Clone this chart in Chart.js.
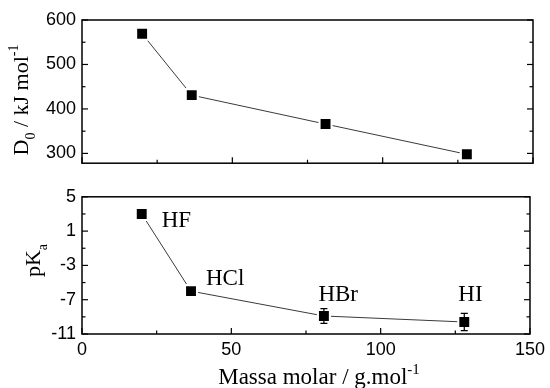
<!DOCTYPE html>
<html><head><meta charset="utf-8">
<script src="https://cdn.jsdelivr.net/npm/chart.js@4"></script>
<style>
html,body{margin:0;padding:0;background:#fff;}
#wrap{position:relative;width:550px;height:388px;overflow:hidden;}
.box{position:absolute;left:0;width:550px;}
</style></head><body>
<div id="wrap">
<div class="box" style="top:0;height:180px"><canvas id="c1"></canvas></div>
<div class="box" style="top:180px;height:208px"><canvas id="c2"></canvas></div>
</div>
<script>
// ---- data ----
const compounds = ['HF', 'HCl', 'HBr', 'HI'];
const molarMass = [20, 36.5, 81, 128];
const bondEnergy = [569, 431, 366, 298];
const pKa = [3.0, -6.0, -8.9, -9.6];
const pKaError = [0, 0, 0.85, 1.0];
const xTicks = [0, 50, 100, 150];
const topYTicks = [300, 400, 500, 600];
const bottomYTicks = [-11, -7, -3, 1, 5];

// ---- styling ----
const SERIF = '"Liberation Serif", "Times New Roman", serif';
const SANS = '"Liberation Sans", Arial, sans-serif';
const labelOffsets = [[20, 13.5], [15, -6], [-5.5, -14.5], [-6, -21]];

function pts(xs, ys) { return xs.map((x, i) => ({x: x, y: ys[i]})); }

function drawRich(ctx, parts, x, y, rotate, anchor) {
  ctx.save();
  ctx.translate(x, y);
  if (rotate) ctx.rotate(-Math.PI / 2);
  ctx.textBaseline = 'alphabetic';
  ctx.textAlign = 'left';
  ctx.fillStyle = '#000';
  let total = 0;
  parts.forEach(p => { ctx.font = p.size + 'px ' + SERIF; total += ctx.measureText(p.t).width; });
  let cx = anchor === 'center' ? -total / 2 : 0;
  parts.forEach(p => {
    ctx.font = p.size + 'px ' + SERIF;
    ctx.fillText(p.t, cx, p.dy || 0);
    cx += ctx.measureText(p.t).width;
  });
  ctx.restore();
}

const framePlugin = {
  id: 'frame',
  afterDraw(chart) {
    const {ctx, chartArea: a, scales} = chart;
    ctx.save();
    ctx.strokeStyle = '#000';
    ctx.lineWidth = 1.5;
    ctx.strokeRect(a.left, a.top, a.right - a.left, a.bottom - a.top);
    ctx.lineWidth = 1.2;
    const line = (x1, y1, x2, y2) => { ctx.beginPath(); ctx.moveTo(x1, y1); ctx.lineTo(x2, y2); ctx.stroke(); };
    const split = (s) => {
      const v = s.ticks.map(t => t.value);
      const step = v[1] - v[0];
      const minor = [];
      for (let k = 0; k < v.length + 1; k++) {
        const m = v[0] - step / 2 + k * step;
        if (m >= s.min && m <= s.max) minor.push(m);
      }
      return {major: v, minor: minor};
    };
    const xs = scales.x, ys = scales.y;
    const X = split(xs), Y = split(ys);
    const MAJ = 6, MIN = 3.5;
    X.major.forEach(v => { const p = xs.getPixelForValue(v); line(p, a.bottom, p, a.bottom - MAJ); });
    X.minor.forEach(v => { const p = xs.getPixelForValue(v); line(p, a.bottom, p, a.bottom - MIN); });
    Y.major.forEach(v => { const p = ys.getPixelForValue(v); line(a.left, p, a.left + MAJ, p); line(a.right, p, a.right - MAJ, p); });
    Y.minor.forEach(v => { const p = ys.getPixelForValue(v); line(a.left, p, a.left + MIN, p); line(a.right, p, a.right - MIN, p); });
    ctx.restore();
  }
};

const errorPlugin = {
  id: 'errbars',
  afterDatasetsDraw(chart, args, opts) {
    if (!opts.err) return;
    const {ctx, scales} = chart;
    ctx.save();
    ctx.strokeStyle = '#000';
    ctx.lineWidth = 1.2;
    opts.err.forEach((e, i) => {
      if (!e) return;
      const x = scales.x.getPixelForValue(opts.xs[i]);
      const y1 = scales.y.getPixelForValue(opts.ys[i] + e);
      const y2 = scales.y.getPixelForValue(opts.ys[i] - e);
      ctx.beginPath();
      ctx.moveTo(x, y1); ctx.lineTo(x, y2);
      ctx.moveTo(x - 3.5, y1); ctx.lineTo(x + 3.5, y1);
      ctx.moveTo(x - 3.5, y2); ctx.lineTo(x + 3.5, y2);
      ctx.stroke();
    });
    ctx.restore();
  }
};

const textPlugin = {
  id: 'texts',
  afterDraw(chart, args, opts) {
    const ctx = chart.ctx;
    (opts.items || []).forEach(it => drawRich(ctx, it.parts, it.x, it.y, it.rotate, it.anchor));
    if (opts.labels) {
      const s = chart.scales;
      ctx.save();
      ctx.font = '23px ' + SERIF;
      ctx.fillStyle = '#000';
      ctx.textBaseline = 'alphabetic';
      opts.labels.forEach((name, i) => {
        const px = s.x.getPixelForValue(opts.xs[i]) + labelOffsets[i][0];
        const py = s.y.getPixelForValue(opts.ys[i]) + labelOffsets[i][1];
        ctx.fillText(name, px, py);
      });
      ctx.restore();
    }
  }
};

function datasets(xs, ys) {
  return [
    {data: pts(xs, ys), showLine: true, borderColor: '#3a3a3a', borderWidth: 1, pointRadius: 0, order: 3},
    {data: pts(xs, ys), showLine: false, pointStyle: 'rect', pointRadius: 10, backgroundColor: '#fff', borderWidth: 0, order: 2},
    {data: pts(xs, ys), showLine: false, pointStyle: 'rect', pointRadius: 7, backgroundColor: '#000', borderWidth: 0, order: 1}
  ];
}

function makeChart(id, ys, yTicks, yMin, yMax, showX, padding, xHeight, pluginOpts) {
  return new Chart(document.getElementById(id), {
    type: 'scatter',
    data: {datasets: datasets(molarMass, ys)},
    plugins: [framePlugin, errorPlugin, textPlugin],
    options: {
      responsive: true, maintainAspectRatio: false, animation: false, devicePixelRatio: 1,
      layout: {padding: padding},
      plugins: Object.assign({legend: {display: false}, tooltip: {enabled: false}}, pluginOpts),
      scales: {
        x: {
          type: 'linear', min: 0, max: 150,
          afterBuildTicks: s => { s.ticks = xTicks.map(v => ({value: v})); },
          afterFit: s => { s.height = xHeight; },
          grid: {display: false, drawTicks: false},
          border: {display: false},
          ticks: {display: showX, color: '#000', padding: 5, font: {family: SANS, size: 18}, maxRotation: 0, autoSkip: false}
        },
        y: {
          type: 'linear', min: yMin, max: yMax,
          afterBuildTicks: s => { s.ticks = yTicks.map(v => ({value: v})); },
          afterFit: s => { s.width = 82; },
          grid: {display: false, drawTicks: false},
          border: {display: false},
          ticks: {color: '#000', padding: 6, font: {family: SANS, size: 18}, autoSkip: false}
        }
      }
    }
  });
}

makeChart('c1', bondEnergy, topYTicks, 278, 600, false, {top: 20, right: 17, bottom: 14, left: 0}, 0, {
  texts: {items: [{rotate: true, anchor: 'center', x: 27.5, y: 100, parts: [
    {t: 'D', size: 22}, {t: '0', size: 14, dy: 7}, {t: ' / kJ mol', size: 22}, {t: '-1', size: 14, dy: -10}]}]}
});

makeChart('c2', pKa, bottomYTicks, -11, 5, true, {top: 7, right: 17, bottom: 0, left: 0}, 54, {
  errbars: {err: pKaError, xs: molarMass, ys: pKa},
  texts: {
    labels: compounds, xs: molarMass, ys: pKa,
    items: [
      {rotate: true, anchor: 'center', x: 39.5, y: 80.5, parts: [{t: 'pK', size: 22}, {t: 'a', size: 14, dy: 7}]},
      {rotate: false, anchor: 'center', x: 319, y: 203.5, parts: [{t: 'Massa molar / g.mol', size: 23}, {t: '-1', size: 15, dy: -10}]}
    ]
  }
});
</script>
</body></html>
